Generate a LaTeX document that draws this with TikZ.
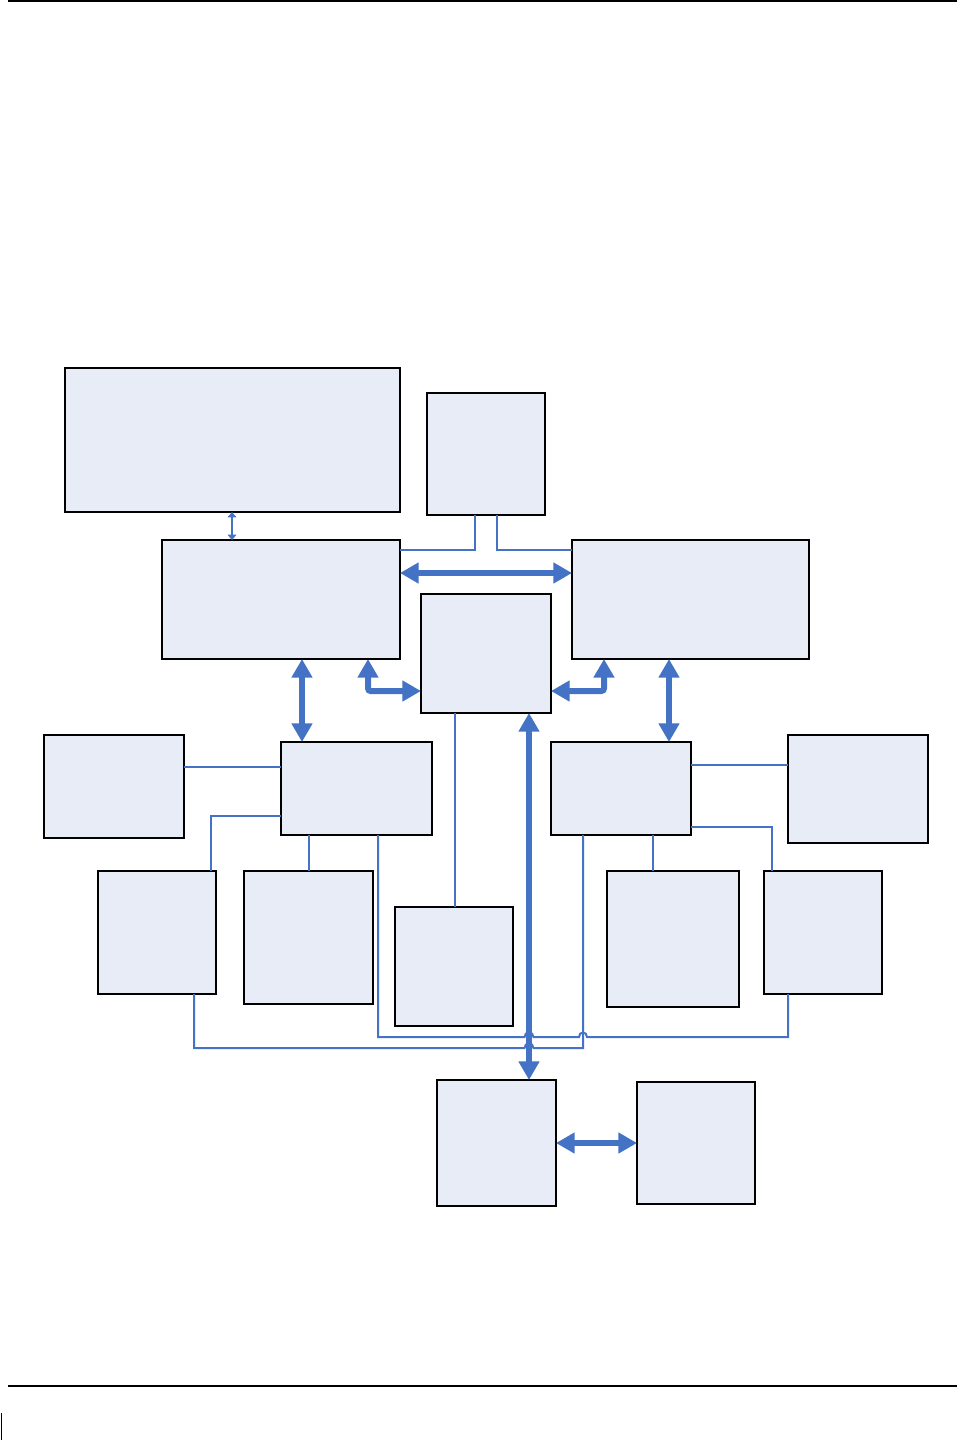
\documentclass[tikz,border=0pt]{standalone}
\usetikzlibrary{arrows.meta}
\definecolor{lineblue}{RGB}{68,114,196}
\definecolor{boxfill}{RGB}{231,236,246}
\tikzset{
  box/.style={draw=black, fill=boxfill, line width=0.9pt, rectangle, inner sep=0pt, outer sep=0pt},
  wire/.style={draw=lineblue, line width=1.5pt},
  bigarr/.style={draw=lineblue, line width=4.5pt, {Triangle[length=14pt,width=15pt]}-{Triangle[length=14pt,width=15pt]}},
  smallarr/.style={draw=lineblue, line width=0.8pt, {Triangle[length=4pt,width=6.5pt]}-{Triangle[length=4pt,width=6.5pt]}},
  rule/.style={draw=black, line width=1.3pt}
}
\newcommand\bx[5]{\node[box, minimum width={(#4-#2)*0.75pt}, minimum height={(#5-#3)*0.75pt}] (#1) at ({(#2+#4)/2},{(#3+#5)/2}) {};}
\begin{document}
\begin{tikzpicture}[x=0.75pt,y=-0.75pt]
\useasboundingbox (0,0) rectangle (957,1440);
% page rules
\coordinate (tl) at (8,1); \coordinate (tr) at (957,1);
\coordinate (bl) at (8,1386); \coordinate (br) at (957,1386);
\coordinate (vl1) at (1.5,1413); \coordinate (vl2) at (1.5,1440);
\draw[rule] (tl) -- (tr);
\draw[rule] (bl) -- (br);
\draw[rule, line width=1pt] (vl1) -- (vl2);
% boxes
\bx{b1}{65}{368}{400}{512}
\bx{b2}{427}{393}{545}{515}
\bx{b3}{162}{540}{400}{659}
\bx{b4}{572}{540}{809}{659}
\bx{b5}{421}{594}{551}{713}
\bx{b6}{44}{735}{184}{838}
\bx{b7}{281}{742}{432}{835}
\bx{b8}{551}{742}{691}{835}
\bx{b9}{788}{735}{928}{843}
\bx{b10}{98}{871}{216}{994}
\bx{b11}{244}{871}{373}{1004}
\bx{b12}{395}{907}{513}{1026}
\bx{b13}{607}{871}{739}{1007}
\bx{b14}{764}{871}{882}{994}
\bx{b15}{437}{1080}{556}{1206}
\bx{b16}{637}{1082}{755}{1204}
% small arrow
\draw[smallarr] (b1.south -| 232,0) -- (b3.north -| 232,0);
% thin wires from b2
\draw[wire] (b2.south -| 475,0) |- (b3.east |- 0,550);
\draw[wire] (b2.south -| 497,0) |- (b4.west |- 0,550);
% thick arrows
\draw[bigarr] (b3.east |- 0,573) -- (b4.west |- 0,573);
\draw[bigarr] (b3.south -| 302,0) -- (b7.north -| 302,0);
\draw[bigarr, rounded corners=2pt] (b3.south -| 368,0) |- (b5.west |- 0,691);
\draw[bigarr, rounded corners=2pt] (b4.south -| 604,0) |- (b5.east |- 0,691);
\draw[bigarr] (b4.south -| 669,0) -- (b8.north -| 669,0);
\draw[bigarr] (b5.south -| 529,0) -- (b15.north -| 529,0);
\draw[bigarr] (b15.east) -- (b16.west);
% thin wires left
\draw[wire] (b6.east |- 0,767) -- (b7.west |- 0,767);
\draw[wire] (b7.west |- 0,816) -| (b10.north -| 211,0);
\draw[wire] (b7.south -| 309,0) -- (b11.north -| 309,0);
\draw[wire] (b5.south -| 455,0) -- (b12.north -| 455,0);
% thin wires right
\draw[wire] (b8.south -| 653,0) -- (b13.north -| 653,0);
\draw[wire] (b8.east |- 0,765) -- (b9.west |- 0,765);
\draw[wire] (b8.east |- 0,827) -| (b14.north -| 772,0);
% long bottom wires with jumps
\draw[wire] (b7.south -| 378,0) -- (378,1037) -- (524.5,1037)
  .. controls (524.5,1031) and (533.5,1031) .. (533.5,1037)
  -- (579,1037) .. controls (579,1031) and (587,1031) .. (587,1037)
  -- (788,1037) -- (b14.south -| 788,0);
\draw[wire] (b10.south -| 194,0) -- (194,1048) -- (524.5,1048)
  .. controls (524.5,1042) and (533.5,1042) .. (533.5,1048)
  -- (583,1048) -- (b8.south -| 583,0);
\end{tikzpicture}
\end{document}
